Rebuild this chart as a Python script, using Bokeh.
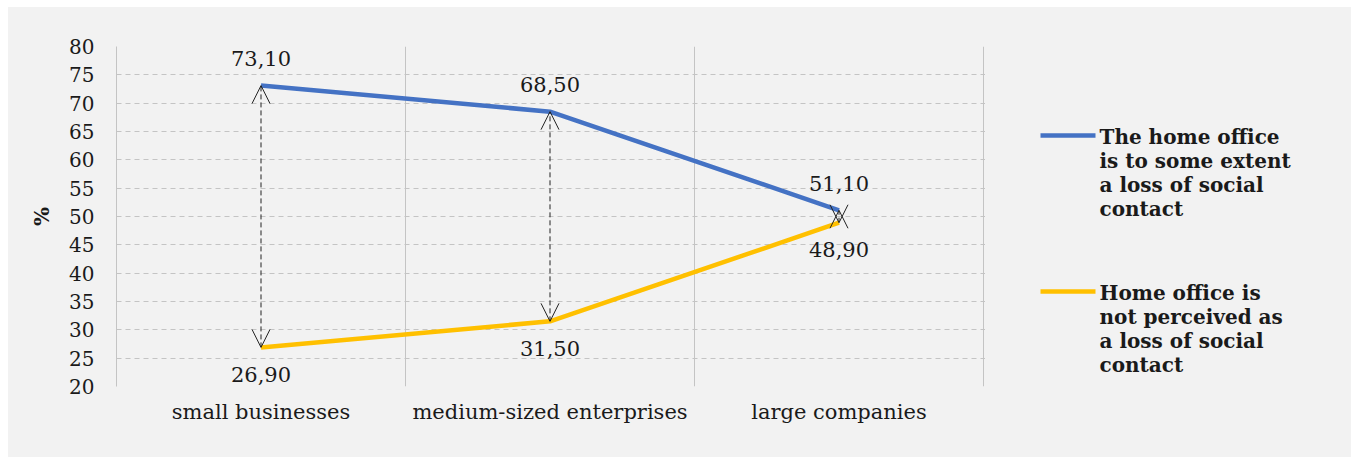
from bokeh.plotting import figure
from bokeh.models import (ColumnDataSource, Range1d, FixedTicker, Arrow, OpenHead, LabelSet, Spacer)
from bokeh.layouts import row, column
from bokeh.embed import file_html
from bokeh.resources import INLINE
from bokeh.core.properties import value

# ---- data ----
categories = ["small businesses", "medium-sized enterprises", "large companies"]
series_loss = [73.10, 68.50, 51.10]
series_noloss = [26.90, 31.50, 48.90]
y_ticks = [20, 25, 30, 35, 40, 45, 50, 55, 60, 65, 70, 75, 80]
legend_loss = ["The home office", "is to some extent", "a loss of social", "contact"]
legend_noloss = ["Home office is", "not perceived as", "a loss of social", "contact"]

BLUE = "#4472C4"
YELLOW = "#FFC000"
BG = "#f2f2f2"
GRID = "#c4c4c4"
TXT = "#1a1a1a"
FONT = "DejaVu Serif"

xs = [i + 0.5 for i in range(len(categories))]
fmt = lambda v: f"{v:.2f}".replace(".", ",")

src = ColumnDataSource(dict(
    x=xs, y1=series_loss, y2=series_noloss,
    l1=[fmt(v) for v in series_loss], l2=[fmt(v) for v in series_noloss],
))

BT, BB = 39, 71
FRAME_W = 867          # pixel width of the three category bands
EXTRA = 2              # a couple of extra pixels so the last band edge line is visible
n = len(categories)
p = figure(width=108 + FRAME_W + EXTRA, height=450, output_backend="svg", toolbar_location=None,
           x_range=Range1d(0, n * (FRAME_W + EXTRA) / FRAME_W),
           y_range=Range1d(y_ticks[0], y_ticks[-1]),
           min_border_left=108, min_border_right=0, min_border_top=BT, min_border_bottom=BB)
p.background_fill_color = BG
p.border_fill_color = BG
p.outline_line_color = None

# grids
p.ygrid.ticker = FixedTicker(ticks=y_ticks)
p.ygrid.grid_line_color = GRID
p.ygrid.grid_line_dash = "5 4"
p.ygrid.grid_line_width = 1
p.xgrid.ticker = FixedTicker(ticks=list(range(1, n + 1)))
p.xgrid.grid_line_color = GRID
p.xgrid.grid_line_width = 1

# y axis
p.yaxis.ticker = FixedTicker(ticks=y_ticks)
p.yaxis.axis_line_color = GRID
p.yaxis.major_tick_line_color = None
p.yaxis.major_tick_out = 0
p.yaxis.major_tick_in = 0
p.yaxis.minor_tick_line_color = None
p.yaxis.major_label_text_font = FONT
p.yaxis.major_label_text_font_size = "20px"
p.yaxis.major_label_text_color = TXT
p.yaxis.major_label_standoff = 22
p.yaxis.axis_label = "%"
p.yaxis.axis_label_text_font = FONT
p.yaxis.axis_label_text_font_style = "bold"
p.yaxis.axis_label_text_font_size = "20px"
p.yaxis.axis_label_text_color = TXT
p.yaxis.axis_label_standoff = 12

# x axis
p.xaxis.ticker = FixedTicker(ticks=xs)
p.xaxis.major_label_overrides = {x: c for x, c in zip(xs, categories)}
p.xaxis.axis_line_color = None
p.xaxis.major_tick_line_color = None
p.xaxis.major_tick_out = 0
p.xaxis.major_tick_in = 0
p.xaxis.minor_tick_line_color = None
p.xaxis.major_label_text_font = FONT
p.xaxis.major_label_text_font_size = "21px"
p.xaxis.major_label_text_color = TXT
p.xaxis.major_label_standoff = 13

# series
p.line("x", "y1", source=src, line_color=BLUE, line_width=4.5)
p.line("x", "y2", source=src, line_color=YELLOW, line_width=4.5)

# double arrows
arr = Arrow(x_start="x", y_start="y2", x_end="x", y_end="y1", source=src,
            line_color="#222222", line_width=1, line_dash="5 3",
            start=OpenHead(size=18, line_color="#222222", line_width=1),
            end=OpenHead(size=18, line_color="#222222", line_width=1))
p.add_layout(arr)

# data labels
for col, yc, off in (("l1", "y1", 27), ("l2", "y2", -27)):
    p.add_layout(LabelSet(x="x", y=yc, text=col, source=src, y_offset=off,
                          text_align="center", text_baseline="middle",
                          text_font=value(FONT), text_font_size="21px", text_color=TXT))

# legend panel (ranges expressed in page pixels)
LEFT = 8 + 108 + FRAME_W + EXTRA
leg = figure(width=1351 - LEFT, height=450, output_backend="svg", toolbar_location=None,
             x_range=Range1d(LEFT, 1351), y_range=Range1d(386, 46),
             min_border_left=0, min_border_right=0, min_border_top=BT, min_border_bottom=BB)
leg.background_fill_color = BG
leg.border_fill_color = BG
leg.outline_line_color = None
leg.axis.visible = False
leg.grid.visible = False

for lines, color, y0 in ((legend_loss, BLUE, 135), (legend_noloss, YELLOW, 291)):
    leg.line([1040, 1095], [y0, y0], line_color=color, line_width=4.5)
    leg.text(x=[1099] * len(lines), y=[y0 + 1 + 24 * i for i in range(len(lines))], text=lines,
             text_align="left", text_baseline="middle", text_font=value(FONT),
             text_font_style="bold", text_font_size="20px", text_color=TXT)

inner = row(p, leg, spacing=0, styles={"background-color": BG})
layout = column(Spacer(height=7), row(Spacer(width=8), inner, spacing=0), spacing=0)
open("out.html", "w").write(file_html(layout, INLINE))
